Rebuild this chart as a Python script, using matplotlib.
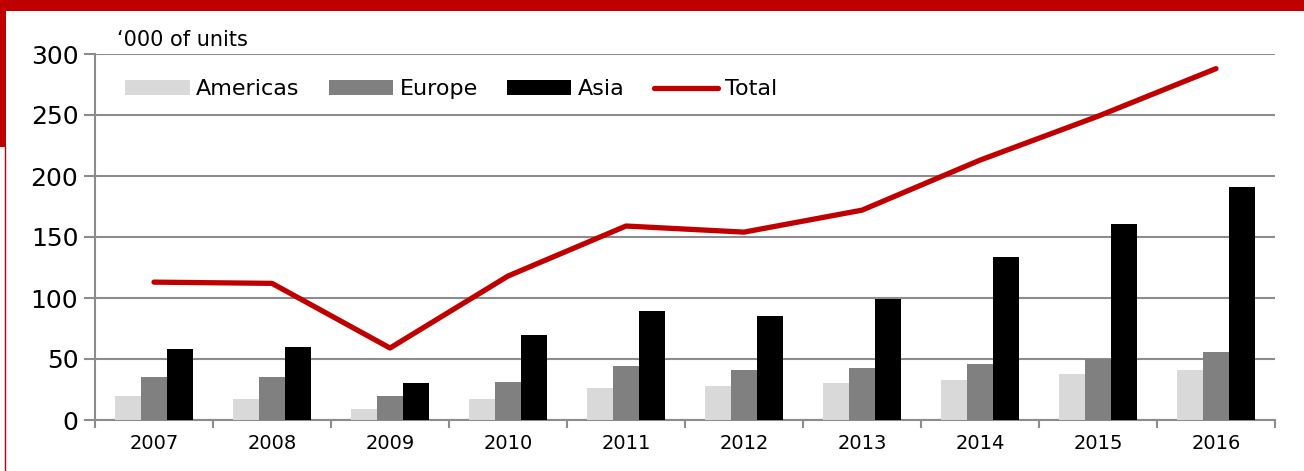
import numpy as np
import matplotlib
matplotlib.use("Agg")
import matplotlib.pyplot as plt
from matplotlib.patches import Rectangle
from matplotlib.lines import Line2D

years = ["2007", "2008", "2009", "2010", "2011", "2012", "2013", "2014", "2015", "2016"]
americas = [20, 17, 9, 17, 26, 28, 30, 33, 38, 41]
europe = [35, 35, 20, 31, 44, 41, 43, 46, 50, 56]
asia = [58, 60, 30, 70, 89, 85, 99, 134, 161, 191]
total = [113, 112, 59, 118, 159, 154, 172, 213, 249, 288]

plt.rcParams['font.family'] = ['DejaVu Sans']
red = "#C00000"
grid_col = "#8C8C8C"

fig = plt.figure(figsize=(13.04, 4.71), dpi=100)
ax = fig.add_axes([95/1304, 1 - 420/471, (1275 - 95)/1304, (420 - 54)/471])

x = np.arange(len(years))
w = 0.22
b1 = ax.bar(x - w, americas, w, color="#D9D9D9", label="Americas", zorder=3)
b2 = ax.bar(x, europe, w, color="#808080", label="Europe", zorder=3)
b3 = ax.bar(x + w, asia, w, color="black", label="Asia", zorder=3)
l1, = ax.plot(x, total, color=red, lw=3.8, solid_capstyle="round", label="Total", zorder=4)

ax.set_xlim(-0.5, len(years) - 0.5)
ax.set_ylim(0, 300)
ax.set_yticks(range(0, 301, 50))
ax.yaxis.grid(True, color=grid_col, lw=1.5, zorder=0)
ax.tick_params(axis="y", length=8, width=1.5, color=grid_col, labelsize=18, pad=4)

ax.set_xticks(x)
ax.set_xticklabels(years)
ax.set_xticks(np.arange(-0.5, len(years)), minor=True)
ax.tick_params(axis="x", which="major", length=0, labelsize=14, pad=10)
ax.tick_params(axis="x", which="minor", length=6, width=1.5, color=grid_col)

for s in ["top", "right"]:
    ax.spines[s].set_visible(False)
for s in ["left", "bottom"]:
    ax.spines[s].set_color(grid_col)
    ax.spines[s].set_linewidth(1.5)

ax.legend([b1, b2, b3, l1], ["Americas", "Europe", "Asia", "Total"],
          loc="upper left", bbox_to_anchor=(0.018, 0.955), ncol=4, frameon=False,
          fontsize=16, handlelength=2.9, handleheight=0.7, columnspacing=1.3,
          handletextpad=0.3, borderaxespad=0)

fig.text(117/1304, 1 - 40/471, "\u2018000 of units", fontsize=15, va="center")

# red frame decorations
fig.add_artist(Rectangle((0, 1 - 11/471), 1, 11/471, transform=fig.transFigure,
                         color=red, lw=0))
fig.add_artist(Rectangle((0, 1 - 147/471), 6/1304, 147/471, transform=fig.transFigure,
                         color=red, lw=0))
fig.add_artist(Line2D([5/1304, 5/1304], [0, 1 - 147/471], transform=fig.transFigure,
                      color=red, lw=1))

fig.savefig("out.png", dpi=100)
